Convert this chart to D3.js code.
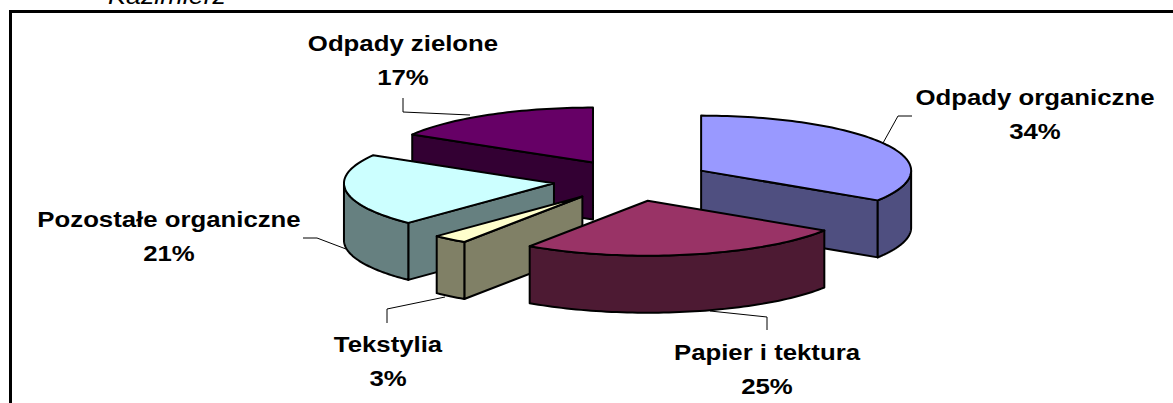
<!DOCTYPE html>
<html><head><meta charset="utf-8">
<script src="https://cdn.jsdelivr.net/npm/d3@7/dist/d3.min.js"></script>
<style>html,body{margin:0;padding:0;background:#fff;overflow:hidden}svg{display:block}</style>
</head><body><svg id="c" width="1173" height="403"></svg>
<script>
const categories=["Odpady organiczne","Papier i tektura","Tekstylia","Pozostałe organiczne","Odpady zielone"];
const values=[34.1,25.4,2.7,21.3,16.5];
const topColors=["#9999FF","#993366","#FFFFCC","#CCFFFF","#660066"];
const sideColors=["#4F4F80","#4D1A33","#808066","#668080","#330033"];
const drawOrder=[4,0,3,2,1];
const labelAnchors=[[1035,105],[767,360],[388,352],[169,227],[403,51]];
const leaders=[[[883,143],[898,116],[912,116]],[[710,311],[767,317],[767,330]],[[445,297],[387,309],[387,323]],[[346,249],[317,238],[303,238]],[[470,115],[403,112],[403,98]]];

const W=1173,H=403,cx=632,cy=180.5,rx=210,ry=55,depth=57,explode=0.375,stretch=1.145;
const svg=d3.select("#c");
svg.append("path").attr("d",d3.line()([[10.5,403],[10.5,11.5],[1173,11.5]])).attr("fill","none").attr("stroke","#000").attr("stroke-width",3);
svg.append("text").attr("transform",`translate(108,4) scale(${stretch},1)`).attr("font-family","Liberation Sans").attr("font-style","italic").attr("font-size",23.5).attr("fill","#000").text("Kazimierz");

const pie=d3.pie().sort(null)(values);
const px=(a,r=1)=>rx*r*Math.sin(a), py=(a,r=1)=>-ry*r*Math.cos(a);
const line=d3.line();
const g=svg.append("g").attr("stroke","#000").attr("stroke-width",2).attr("stroke-linejoin","round");
drawOrder.forEach(i=>{
  const {startAngle:a0,endAngle:a1}=pie[i], m=(a0+a1)/2;
  const ax=cx+px(m,explode), ay=cy+py(m,explode);
  const n=Math.max(8,Math.ceil((a1-a0)*40));
  const arcAngles=d3.range(n+1).map(k=>a0+(a1-a0)*k/n);
  const P=(a,d=0)=>[ax+px(a),ay+py(a)+d];
  const wall=a=>{g.append("path").attr("fill",sideColors[i]).attr("d",line([[ax,ay],P(a),P(a,depth),[ax,ay+depth]])+"Z");};
  if(Math.sin(a0)<-1e-6) wall(a0);
  if(Math.sin(a1)>1e-6) wall(a1);
  const frontStart=Math.max(a0,Math.PI/2), frontEnd=Math.min(a1,1.5*Math.PI);
  if(frontEnd>frontStart){
    const f=d3.range(n+1).map(k=>frontStart+(frontEnd-frontStart)*k/n);
    g.append("path").attr("fill",sideColors[i]).attr("d",line(f.map(a=>P(a)).concat(f.slice().reverse().map(a=>P(a,depth))))+"Z");
  }
  g.append("path").attr("fill",topColors[i]).attr("d",line([[ax,ay]].concat(arcAngles.map(a=>P(a))))+"Z");
});
leaders.forEach(l=>svg.append("path").attr("d",line(l)).attr("fill","none").attr("stroke","#000").attr("stroke-width",1));
categories.forEach((c,i)=>{
  const [lx,ly]=labelAnchors[i];
  const t=svg.append("g").attr("transform",`translate(${lx},0) scale(${stretch},1)`).append("text").attr("text-anchor","middle").attr("font-family","Liberation Sans").attr("font-weight","bold").attr("font-size",22.5).attr("fill","#000");
  t.append("tspan").attr("x",0).attr("y",ly).text(c);
  t.append("tspan").attr("x",0).attr("y",ly+34).text(d3.format(".0f")(values[i])+"%");
});
</script></body></html>
